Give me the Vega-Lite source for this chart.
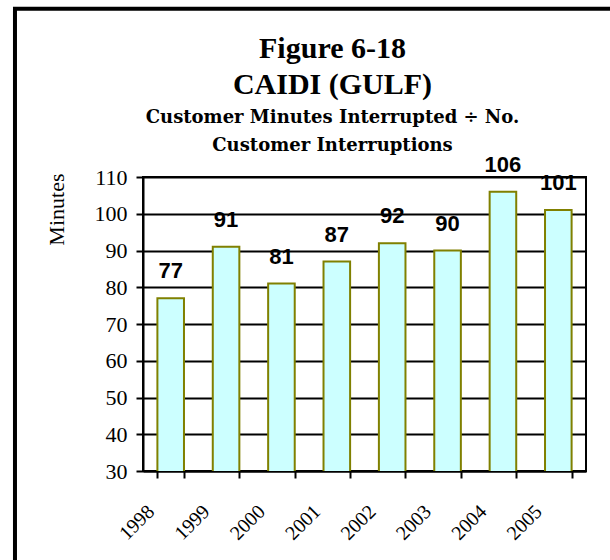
{
  "$schema": "https://vega.github.io/schema/vega-lite/v6.json",
  "autosize": {"type": "none"},
  "padding": {"left": 143, "top": 177, "right": 24, "bottom": 89},
  "width": 443,
  "height": 294,
  "background": "white",
  "title": {
    "text": ["Figure 6-18", "CAIDI (GULF)"],
    "subtitle": ["Customer Minutes Interrupted ÷ No.", "Customer Interruptions"],
    "anchor": "middle",
    "frame": "group",
    "dx": -32,
    "font": "Liberation Serif",
    "fontSize": 30,
    "fontWeight": "bold",
    "color": "black",
    "lineHeight": 36,
    "subtitleFont": "DejaVu Serif",
    "subtitleFontSize": 18,
    "subtitleFontWeight": "bold",
    "subtitleColor": "black",
    "subtitleLineHeight": 28,
    "subtitlePadding": 9,
    "offset": -148
  },
  "data": {
    "values": [
      {"year": "1998", "minutes": 77},
      {"year": "1999", "minutes": 91},
      {"year": "2000", "minutes": 81},
      {"year": "2001", "minutes": 87},
      {"year": "2002", "minutes": 92},
      {"year": "2003", "minutes": 90},
      {"year": "2004", "minutes": 106},
      {"year": "2005", "minutes": 101}
    ]
  },
  "layer": [
    {
      "data": {"values": [{"frame": "outer"}]},
      "mark": {"type": "rect", "fill": null, "stroke": "black", "strokeWidth": 4, "clip": false},
      "encoding": {
        "x": {"datum": -0.289, "type": "quantitative", "scale": {"domain": [0, 1], "nice": false, "zero": false}, "axis": null},
        "x2": {"datum": 1.1},
        "y": {"datum": 1.572, "type": "quantitative", "scale": {"domain": [0, 1], "nice": false, "zero": false}, "axis": null},
        "y2": {"datum": -0.4}
      }
    },
    {
      "encoding": {
        "x": {
          "field": "year", "type": "nominal", "sort": null,
          "scale": {"paddingInner": 0.52, "paddingOuter": 0.26},
          "axis": {
            "title": null,
            "labelAngle": -45,
            "labelFont": "Liberation Serif",
            "labelFontSize": 20,
            "labelColor": "black",
            "labelOverlap": false,
            "labelOffset": -27,
            "labelPadding": 23,
            "tickBand": "extent",
            "tickColor": "black",
            "tickWidth": 2,
            "tickSize": 7,
            "domainColor": "black",
            "domainWidth": 2,
            "grid": false
          }
        },
        "y": {
          "field": "minutes", "type": "quantitative",
          "scale": {"domain": [30, 110], "zero": false, "nice": false},
          "axis": {
            "title": "Minutes",
            "values": [30, 40, 50, 60, 70, 80, 90, 100, 110],
            "tickCount": 12,
            "labelOverlap": false,
            "titleFont": "Liberation Serif",
            "titleFontSize": 22,
            "titleFontWeight": "normal",
            "titleColor": "black",
            "titleAnchor": "end",
            "titlePadding": 26,
            "titleY": -4,
            "labelFont": "Liberation Serif",
            "labelFontSize": 22,
            "labelFontWeight": "normal",
            "labelColor": "black",
            "labelPadding": 9,
            "tickColor": "black",
            "tickWidth": 2,
            "tickSize": 7,
            "domainColor": "black",
            "domainWidth": 2,
            "grid": true,
            "gridColor": "black",
            "gridWidth": 2,
            "gridOpacity": 1
          }
        }
      },
      "layer": [
        {
          "mark": {"type": "bar", "fill": "#CCFFFF", "stroke": "#808000", "strokeWidth": 2, "clip": true}
        },
        {
          "mark": {"type": "text", "font": "Liberation Sans", "fontSize": 22, "fontWeight": "bold", "color": "black", "baseline": "alphabetic", "dy": -20},
          "encoding": {
            "text": {"field": "minutes", "type": "quantitative"}
          }
        }
      ]
    }
  ],
  "resolve": {"scale": {"x": "independent", "y": "independent"}},
  "config": {
    "view": {"stroke": "black", "strokeWidth": 2},
    "axis": {"labelFont": "Liberation Serif", "titleFont": "Liberation Serif"},
    "axisY": {"labelFont": "Liberation Serif"}
  }
}
